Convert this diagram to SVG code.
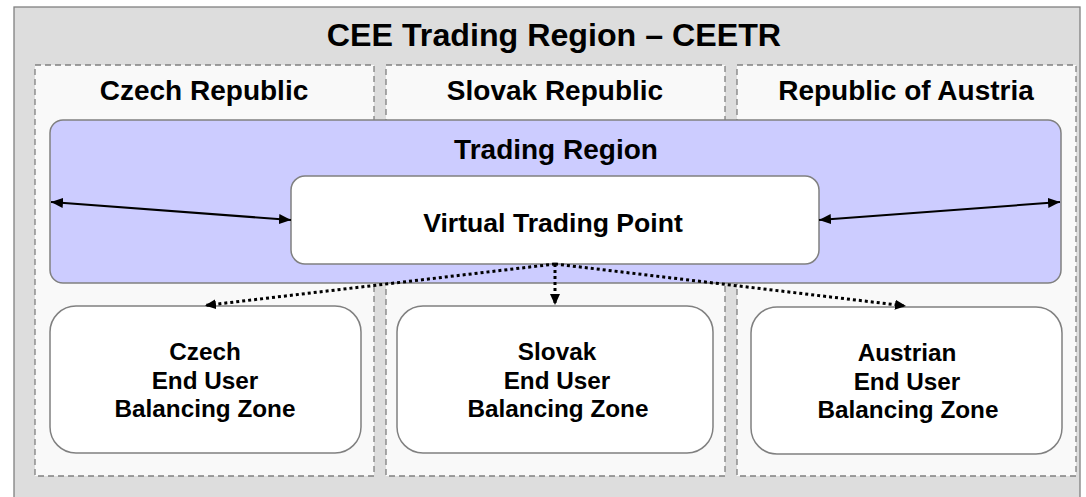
<svg xmlns="http://www.w3.org/2000/svg" width="1086" height="497" viewBox="0 0 1086 497">
<defs>
<style>
text{font-family:"Liberation Sans",Arial,sans-serif;font-weight:bold;fill:#000;text-anchor:middle}
.panel{fill:#f9f9f9;stroke:#808080;stroke-width:1.3;stroke-dasharray:6 4}
.box{fill:#fff;stroke:#808080;stroke-width:1.5}
.t28{font-size:28px}
.t24{font-size:24.3px}
.solid{stroke:#000;stroke-width:2;fill:none}
.dot{stroke:#000;stroke-width:3;stroke-dasharray:3 3;fill:none}
</style>
<marker id="ah" viewBox="0 0 12 10" refX="12" refY="5" markerWidth="12" markerHeight="10" markerUnits="userSpaceOnUse" orient="auto-start-reverse">
<path d="M0,0 L12,5 L0,10 Z" fill="#000"/>
</marker>
<marker id="ahd" viewBox="0 0 11 10" refX="11" refY="5" markerWidth="11" markerHeight="10" markerUnits="userSpaceOnUse" orient="auto">
<path d="M0,0 L11,5 L0,10 Z" fill="#000"/>
</marker>
</defs>
<g id="ceetr">
<rect x="14" y="7" width="1066" height="500" fill="#dddddd" stroke="#808080" stroke-width="1.3"/>
<text x="554" y="46" style="font-size:32.2px">CEE Trading Region – CEETR</text>
</g>
<g id="panel-cz">
<rect class="panel" x="35" y="65" width="339" height="411"/>
<text class="t28" x="204" y="100">Czech Republic</text>
</g>
<g id="panel-sk">
<rect class="panel" x="386" y="65" width="339" height="411"/>
<text class="t28" x="555" y="100">Slovak Republic</text>
</g>
<g id="panel-at">
<rect class="panel" x="737" y="65" width="339" height="411"/>
<text class="t28" x="906" y="100">Republic of Austria</text>
</g>
<g id="trading-region">
<rect x="50" y="120" width="1011" height="163" rx="13" fill="#ccccff" stroke="#808080" stroke-width="1.5"/>
<text class="t28" x="556" y="159">Trading Region</text>
</g>
<g id="vtp">
<rect class="box" x="291" y="176" width="528" height="88" rx="14"/>
<text x="553" y="232" style="font-size:26.6px">Virtual Trading Point</text>
</g>
<g id="bz-cz">
<rect class="box" x="50" y="306" width="311" height="147" rx="26"/>
<text class="t24" x="205" y="360">Czech</text>
<text class="t24" x="205" y="389">End User</text>
<text class="t24" x="205" y="417">Balancing Zone</text>
</g>
<g id="bz-sk">
<rect class="box" x="397" y="306" width="316" height="147" rx="26"/>
<text class="t24" x="557" y="360">Slovak</text>
<text class="t24" x="557" y="389">End User</text>
<text class="t24" x="558" y="417">Balancing Zone</text>
</g>
<g id="bz-at">
<rect class="box" x="751" y="307" width="311" height="147" rx="26"/>
<text class="t24" x="907" y="361">Austrian</text>
<text class="t24" x="907" y="390">End User</text>
<text class="t24" x="908" y="418">Balancing Zone</text>
</g>
<g id="connectors">
<line class="solid" x1="51" y1="202" x2="291" y2="220" marker-start="url(#ah)" marker-end="url(#ah)"/>
<line class="solid" x1="819" y1="220" x2="1060" y2="202" marker-start="url(#ah)" marker-end="url(#ah)"/>
<line class="dot" x1="555" y1="264" x2="205" y2="305.5" marker-end="url(#ahd)"/>
<line class="dot" x1="555" y1="264" x2="555" y2="305" marker-end="url(#ahd)"/>
<line class="dot" x1="555" y1="264" x2="906" y2="306" marker-end="url(#ahd)"/>
</g>
</svg>
